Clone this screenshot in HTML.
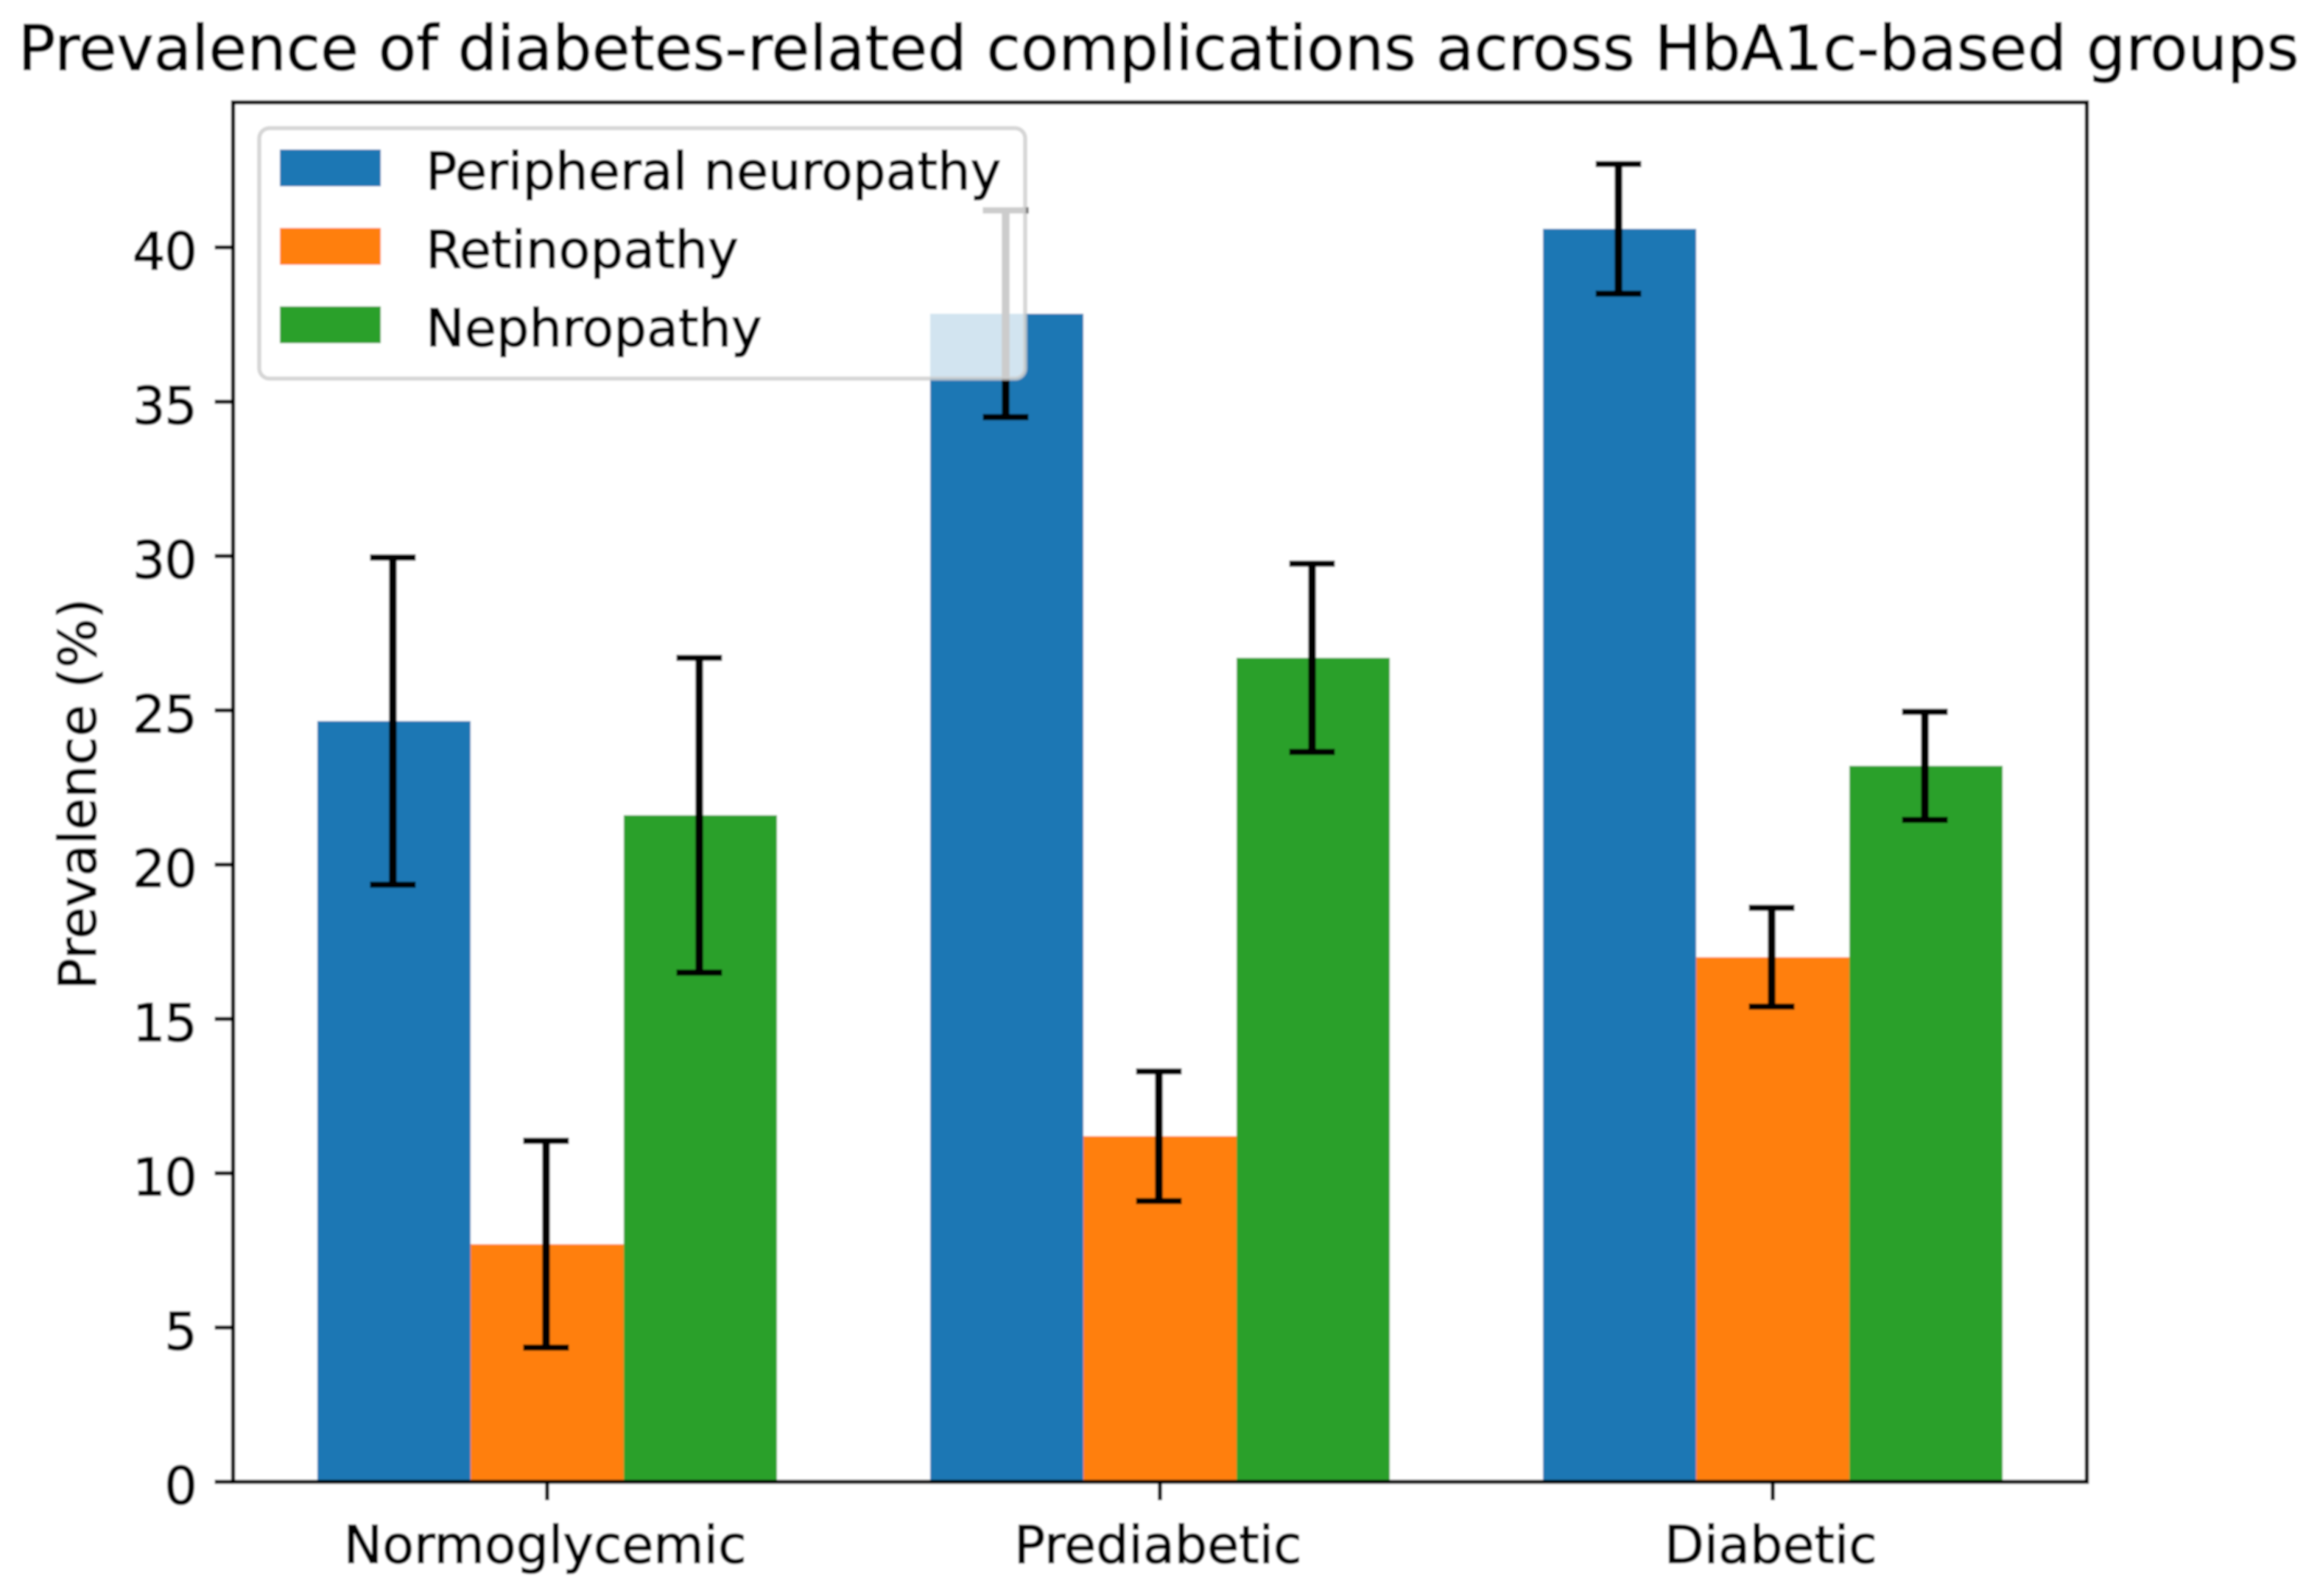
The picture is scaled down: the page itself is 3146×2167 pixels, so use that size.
<!DOCTYPE html>
<html lang="en">
<head>
<meta charset="utf-8">
<title>Prevalence of diabetes-related complications across HbA1c-based groups</title>
<style>
html,body{margin:0;padding:0;background:#fff;width:3146px;height:2167px;overflow:hidden}
svg{display:block}
text{font-family:"DejaVu Sans","Liberation Sans",sans-serif;fill:#000;stroke:#000;stroke-width:1.3px}
</style>
</head>
<body>
<svg id="chart" xmlns="http://www.w3.org/2000/svg" width="3146" height="2167" viewBox="0 0 3146 2167">
  <defs>
    <filter id="soft" x="0" y="0" width="100%" height="100%" filterUnits="objectBoundingBox">
      <feGaussianBlur stdDeviation="1.3"/>
    </filter>
  </defs>
  <rect x="0" y="0" width="3146" height="2167" fill="#ffffff"/>
  <g id="root" filter="url(#soft)">
    <rect x="0" y="0" width="3146" height="2167" fill="#ffffff"/>
    <text x="1573" y="95" font-size="84.6" text-anchor="middle" letter-spacing="-0.17">Prevalence of diabetes-related complications across HbA1c-based groups</text>
    <g id="bars"></g>
    <g id="errors"></g>
    <g id="axes"></g>
    <text transform="translate(130 1078) rotate(-90)" font-size="70.5" text-anchor="middle">Prevalence (%)</text>
    <g id="legend"></g>
  </g>
</svg>
<script>
const categories = ['Normoglycemic', 'Prediabetic', 'Diabetic'];
const seriesNames = ['Peripheral neuropathy', 'Retinopathy', 'Nephropathy'];
const neuropathyValues = [24.65, 37.85, 40.6];
const retinopathyValues = [7.7, 11.2, 17.0];
const nephropathyValues = [21.6, 26.7, 23.2];
const neuropathyErrors = [5.3, 3.35, 2.1];
const retinopathyErrors = [3.35, 2.1, 1.6];
const nephropathyErrors = [5.1, 3.05, 1.75];
const yTickLabels = [0, 5, 10, 15, 20, 25, 30, 35, 40];

const NS = 'http://www.w3.org/2000/svg';
const plot = { left: 316.5, right: 2833.5, top: 139, bottom: 2012 };
const domainX = [-0.5125, 2.5125];
const domainY = [0, 44.7];
const barWidth = 0.25;
const seriesColors = ['#1f77b4', '#ff7f0e', '#2ca02c'];
const seriesValues = [neuropathyValues, retinopathyValues, nephropathyValues];
const seriesErrors = [neuropathyErrors, retinopathyErrors, nephropathyErrors];

function xScale(v) {
  return plot.left + (v - domainX[0]) / (domainX[1] - domainX[0]) * (plot.right - plot.left);
}
function yScale(v) {
  return plot.bottom - (v - domainY[0]) / (domainY[1] - domainY[0]) * (plot.bottom - plot.top);
}
function make(tag, attrs, parent) {
  const el = document.createElementNS(NS, tag);
  Object.keys(attrs).forEach(function (k) { el.setAttribute(k, attrs[k]); });
  parent.appendChild(el);
  return el;
}
function slug(s) {
  return s.toLowerCase().replace(/[^a-z0-9]+/g, '-');
}

const barsGroup = document.getElementById('bars');
const errorsGroup = document.getElementById('errors');
const axesGroup = document.getElementById('axes');
const legendGroup = document.getElementById('legend');

seriesValues.forEach(function (values, s) {
  values.forEach(function (value, c) {
    const center = c + (s - 1) * barWidth;
    const x0 = xScale(center - barWidth / 2);
    const x1 = xScale(center + barWidth / 2);
    const bar = make('rect', { x: x0, y: yScale(value), width: x1 - x0, height: yScale(0) - yScale(value), fill: seriesColors[s] }, barsGroup);
    
    
  });
});

seriesErrors.forEach(function (errors, s) {
  errors.forEach(function (err, c) {
    const cx = xScale(c + (s - 1) * barWidth) - 1.5;
    const hi = yScale(seriesValues[s][c] + err);
    const lo = yScale(seriesValues[s][c] - err);
    const stem = make('line', { x1: cx, x2: cx, y1: hi, y2: lo, stroke: '#000', 'stroke-width': 10.5 }, errorsGroup);
    
    
    [hi, lo].forEach(function (y) {
      const cap = make('line', { x1: cx - 31, x2: cx + 31, y1: y, y2: y, stroke: '#000', 'stroke-width': 8.5 }, errorsGroup);
      
      
    });
  });
});

yTickLabels.forEach(function (t) {
  const y = yScale(t);
  const tick = make('line', { x1: plot.left - 25, x2: plot.left, y1: y, y2: y, stroke: '#000', 'stroke-width': 5.5 }, axesGroup);
  
  
  const label = make('text', { x: plot.left - 50, y: y + 30, 'font-size': 70.5, 'text-anchor': 'end', 'letter-spacing': -1.5 }, axesGroup);
  label.textContent = String(t);
  
  
});

categories.forEach(function (name, c) {
  const x = xScale(c);
  const tick = make('line', { x1: x, x2: x, y1: plot.bottom, y2: plot.bottom + 25, stroke: '#000', 'stroke-width': 5.5 }, axesGroup);
  
  
  const label = make('text', { x: x - 3, y: 2122, 'font-size': 70.5, 'text-anchor': 'middle', 'letter-spacing': -0.3 }, axesGroup);
  label.textContent = name;
  
  
});

const frame = make('rect', { x: plot.left, y: plot.top, width: plot.right - plot.left, height: plot.bottom - plot.top, fill: 'none', stroke: '#000', 'stroke-width': 5.5 }, axesGroup);



const legendBox = make('rect', { x: 352, y: 174, width: 1040, height: 340, rx: 14, ry: 14, fill: '#ffffff', 'fill-opacity': 0.8, stroke: '#cccccc', 'stroke-opacity': 0.8, 'stroke-width': 5.5 }, legendGroup);



seriesNames.forEach(function (name, s) {
  const rowY = 203 + s * 106.5;
  const swatch = make('rect', { x: 380, y: rowY, width: 137, height: 50, fill: seriesColors[s] }, legendGroup);
  
  
  const label = make('text', { x: 578, y: rowY + 54, 'font-size': 70.5, 'letter-spacing': -0.15 }, legendGroup);
  label.textContent = name;
  
  
});
</script>
</body>
</html>
